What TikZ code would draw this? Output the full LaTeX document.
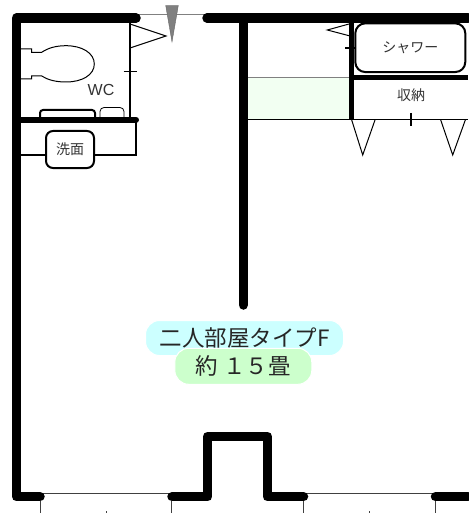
\documentclass[tikz,border=0pt]{standalone}
\usepackage{fontspec}
\newfontfamily\jpfont{Noto Sans CJK JP}
\setmainfont{Liberation Sans}
\definecolor{roomblue}{HTML}{CCFFFF}
\definecolor{roomgreen}{HTML}{CCFFCC}
\definecolor{closetgreen}{HTML}{F2FFF2}
\definecolor{doorgray}{HTML}{808080}
\definecolor{labelgray}{HTML}{333333}
\tikzset{
  wall/.style={line width=9.5pt, line cap=round, line join=round},
  midwall/.style={line width=5.5pt, line cap=round, line join=round},
  thinwall/.style={line width=1.5pt},
  hairline/.style={line width=0.8pt, black!75},
  fixture/.style={draw, line width=2pt, rounded corners=7pt, fill=white, text=labelgray,
    font=\jpfont\fontsize{14}{14}\selectfont, inner sep=0pt},
  roomlabel/.style={rounded corners=14pt, draw=white, line width=1pt, inner sep=0pt,
    font=\jpfont\fontsize{22.5}{22.5}\selectfont, text=black!85},
}

\begin{document}
\begin{tikzpicture}[x=1pt, y=-1pt]
      \useasboundingbox (0,0) rectangle (468,513);
      % closet floor
      \fill[closetgreen] (248,78) rectangle (349,119);
      % thin lines
      \draw[line width=1pt, doorgray] (138,15) -- (205,15);
      \draw[line width=1pt, doorgray] (248,78) -- (349,78);
      \draw[thinwall] (130,20) -- (130,118);
      \draw[thinwall] (248,119.5) -- (468,119.5);
      \draw[thinwall] (136,120) -- (136,155) -- (21,155);
      \draw[hairline] (42,493.5) -- (170,493.5);
      \draw[hairline] (305,493.5) -- (433,493.5);
      % marks under the window
      \draw[hairline] (40,501) -- (40,513);
      \draw[hairline] (171.7,501) -- (171.7,513);
      \draw[hairline] (303.5,501) -- (303.5,513);
      \draw[hairline] (435,501) -- (435,513);
      \draw[hairline] (106,511) -- (106,513);
      \draw[hairline] (369,511) -- (369,513);
      % door swings
      \draw[line width=1pt] (130,24) -- (166,36) -- (130,48);
      \draw[line width=1pt] (349,24) -- (327.3,30) -- (349,35.7);
      \draw[line width=1pt] (351.7,120) -- (362.7,155) -- (375,120);
      \draw[line width=1pt] (440.7,120) -- (452.7,155) -- (465.3,120);
      \fill[doorgray, draw=black!60, line width=0.4pt] (165.7,5.5) -- (178.3,5.5) -- (172,42) -- cycle;
      % door handles
      \draw[thinwall] (123.5,71.5) -- (137,71.5);
      \draw[thinwall] (345,48) -- (358,48);
      \draw[thinwall] (411,113) -- (411,126);
      % toilet
      \draw[line width=1pt] (21,49) -- (31.7,49) -- (31.7,52.3) -- (41.7,52.3)
        .. controls (48,48) and (56,45.7) .. (66,45.7)
        .. controls (82,45.7) and (94.3,53) .. (94.3,64)
        .. controls (94.3,75) and (82,82) .. (66,82)
        .. controls (56,82) and (48,80) .. (41.7,76)
        -- (31.7,76) -- (31.7,79) -- (21,79);
      % fittings on the wc wall
      \draw[line width=2pt, rounded corners=3pt] (40,117) -- (40,110) -- (95,110) -- (95,117);
      \draw[line width=0.8pt, rounded corners=4pt] (100,117) -- (100,107.5) -- (124,107.5) -- (124,117);
      % walls
      \draw[wall] (40,496.7) -- (16.5,496.7) -- (16.5,18) -- (136,18);
      \draw[wall] (207,18) -- (468,18);
      \draw[wall] (243.3,18) -- (243.3,305);
      \draw[wall] (172,496.7) -- (207.7,496.7) -- (207.7,436.5) -- (267.3,436.5) -- (267.3,496.7) -- (303.5,496.7);
      \draw[wall] (435.5,496.7) -- (468,496.7);
      \draw[midwall, line cap=butt] (351.5,20) -- (351.5,120);
      \draw[midwall, line cap=butt] (351.5,77.7) -- (468,77.7);
      \draw[line width=6pt, line cap=round] (16.5,119.7) -- (136,119.7);
      % labels
      \node[anchor=center, text=labelgray, font=\fontsize{16}{16}\selectfont] (wclabel) at (101,89.5) {WC};
      \node[fixture, minimum width=48pt, minimum height=37pt] (sink) at (70,149.5) {洗面};
      \node[fixture, minimum width=110pt, minimum height=48.7pt, rounded corners=10pt] (shower) at (410.3,47.7) {シャワー};
      \node[anchor=center, text=labelgray, font=\jpfont\fontsize{14}{14}\selectfont] (closet) at (411,95.5) {収納};
      \node[roomlabel, fill=roomblue, minimum width=198pt, minimum height=35pt] (roomtype) at (244.5,338) {二人部屋タイプF};
      \node[roomlabel, fill=roomgreen, minimum width=137pt, minimum height=36pt] (roomsize) at (243.3,366.3) {約 １５畳};
    \end{tikzpicture}
\end{document}
